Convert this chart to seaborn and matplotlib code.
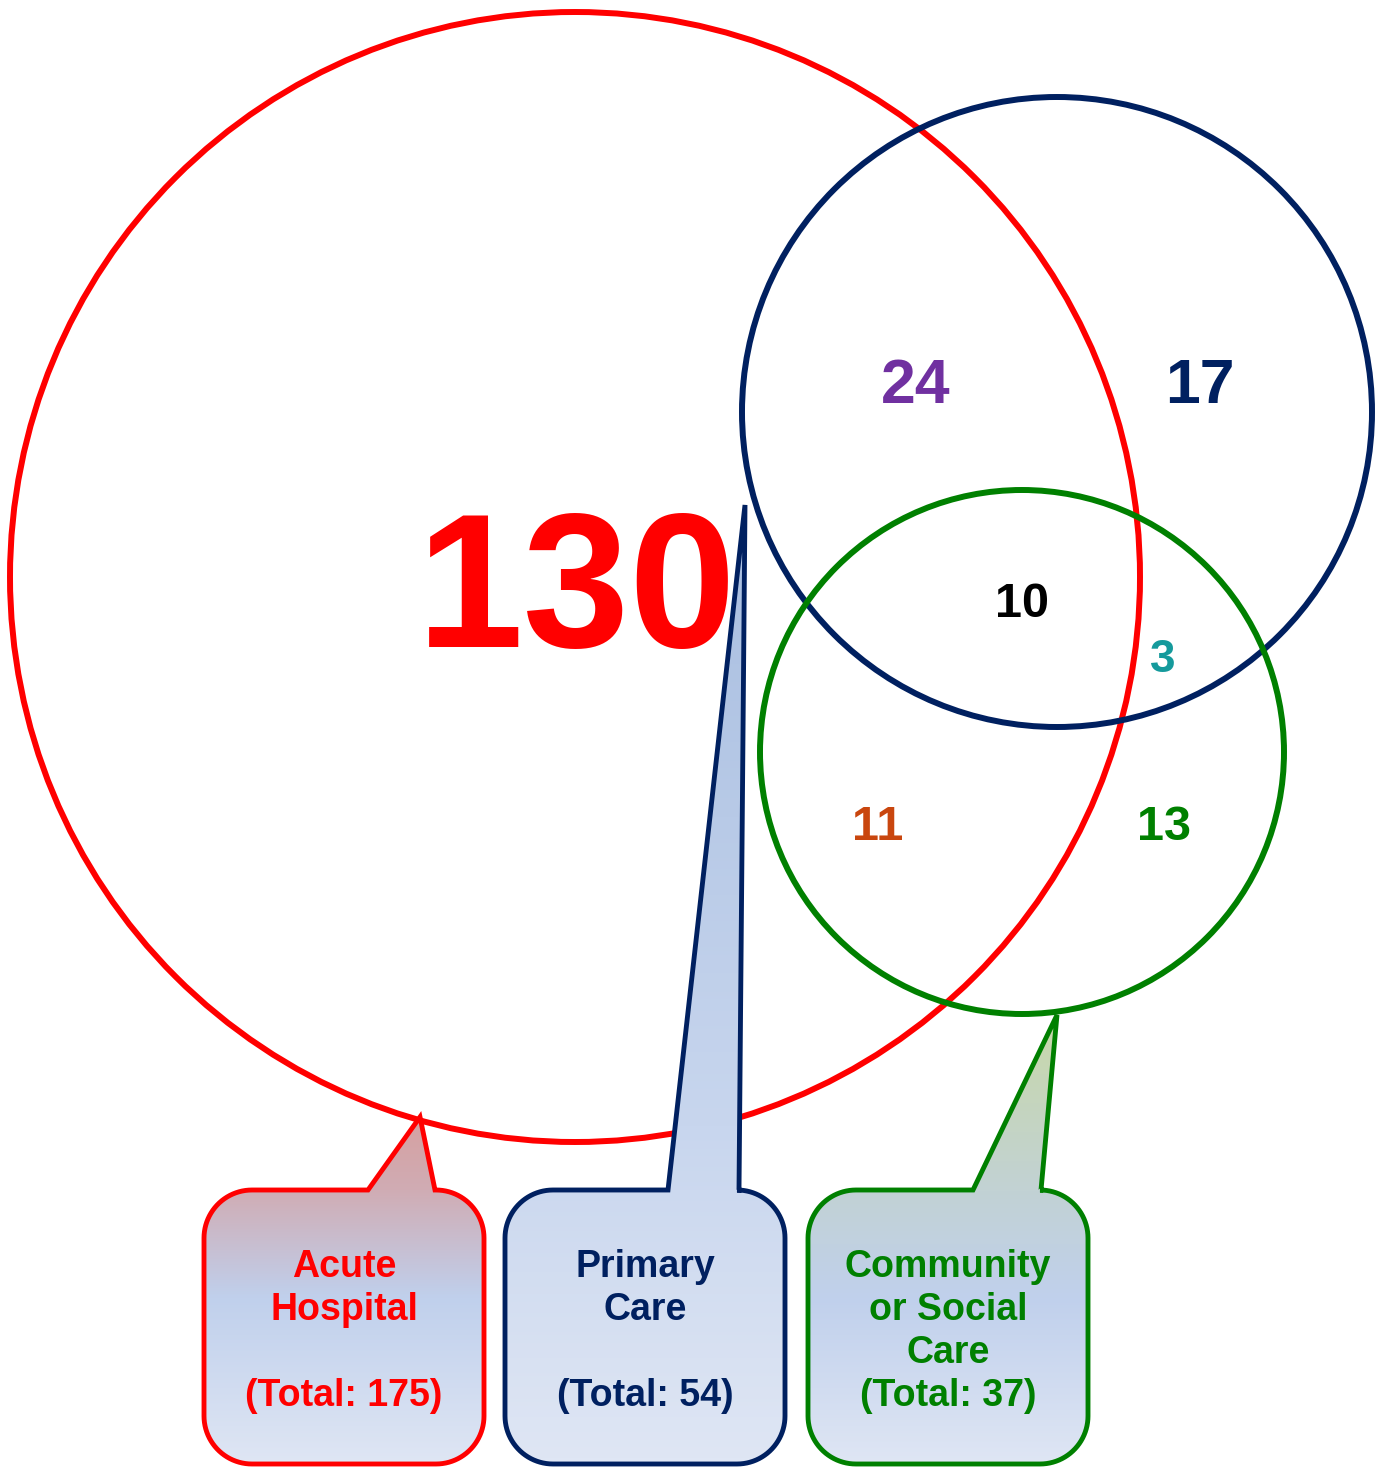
import numpy as np
import matplotlib
matplotlib.use("Agg")
import matplotlib.pyplot as plt
import seaborn as sns
from matplotlib.patches import Circle, PathPatch
from matplotlib.path import Path
from matplotlib.colors import LinearSegmentedColormap

sns.set_theme(style="white")
plt.rcParams["font.family"] = ["Liberation Sans", "DejaVu Sans"]
plt.rcParams["font.weight"] = "bold"

# Counts of patients in each region of the three-way overlap
services = ["Acute Hospital", "Primary Care", "Community or Social Care"]
acute_only = 130
primary_only = 17
community_only = 13
acute_primary = 24
acute_community = 11
primary_community = 3
all_three = 10

totals = [
    acute_only + acute_primary + acute_community + all_three,
    primary_only + acute_primary + primary_community + all_three,
    community_only + acute_community + primary_community + all_three,
]

callout_lines = [
    ["Acute", "Hospital", "", f"(Total: {totals[0]})"],
    ["Primary", "Care", "", f"(Total: {totals[1]})"],
    ["Community", "or Social", "Care", f"(Total: {totals[2]})"],
]

RED = "#FF0000"
NAVY = "#002060"
GREEN = "#008000"

W, H = 1384, 1467
fig = plt.figure(figsize=(W / 100, H / 100), dpi=100)
ax = fig.add_axes([0, 0, 1, 1])
ax.set_xlim(0, W)
ax.set_ylim(H, 0)
ax.set_aspect("equal")
ax.axis("off")

# Set circles (pixel-space layout, y grows downward)
circles = [
    ((575, 577), 565, RED),
    ((1057, 412), 315, NAVY),
    ((1022, 752), 262, GREEN),
]
for (cx, cy), r, col in circles:
    ax.add_patch(Circle((cx, cy), r, fill=False, ec=col, lw=4.3, zorder=2))

# Region counts
def num(x, y, val, color, size):
    ax.text(x, y, str(val), color=color, fontsize=size, fontweight="bold",
            ha="center", va="baseline", zorder=3)

num(577, 647, acute_only, RED, 138)
num(916, 403, acute_primary, "#7030A0", 45)
num(1200, 403, primary_only, NAVY, 45)
num(1022, 617, all_three, "black", 35)
num(1163, 672, primary_community, "#159A9C", 33)
num(878, 840, acute_community, "#C9460E", 35)
num(1164, 840, community_only, GREEN, 35)


def callout_path(x0, x1, y0, y1, r, bl, tip, br):
    pts = []

    def arc(cx, cy, a0, a1):
        t = np.radians(np.linspace(a0, a1, 24))
        return list(zip(cx + r * np.cos(t), cy + r * np.sin(t)))

    pts += arc(x0 + r, y0 + r, 180, 270)
    pts += [(bl, y0), tip, (br, y0)]
    pts += arc(x1 - r, y0 + r, 270, 360)
    pts += arc(x1 - r, y1 - r, 0, 90)
    pts += arc(x0 + r, y1 - r, 90, 180)
    pts.append(pts[0])
    codes = [Path.MOVETO] + [Path.LINETO] * (len(pts) - 2) + [Path.CLOSEPOLY]
    return Path(pts, codes)


callouts = [
    dict(x0=204, x1=484, bl=368, tip=(420, 1117), br=435, color=RED,
         stops=[(0.0, "#D6A0A0"), (0.21, "#D0ACB4"), (0.52, "#C0D0EC"), (1.0, "#DFE6F4")]),
    dict(x0=505, x1=785, bl=668, tip=(745, 505), br=739, color=NAVY,
         stops=[(0.0, "#A8BEE0"), (0.65, "#C8D6EE"), (1.0, "#DFE6F4")]),
    dict(x0=808, x1=1088, bl=973, tip=(1057, 1015), br=1041, color=GREEN,
         stops=[(0.0, "#C8D8A8"), (0.39, "#C2D2D4"), (0.63, "#C0D0EC"), (1.0, "#DFE6F4")]),
]
box_top, box_bottom, corner = 1190, 1464, 48
baselines = [1277, 1320, 1363, 1406]

for c, lines in zip(callouts, callout_lines):
    path = callout_path(c["x0"], c["x1"], box_top, box_bottom, corner,
                        c["bl"], c["tip"], c["br"])
    outline = PathPatch(path, fc="none", ec=c["color"], lw=3.5, zorder=5,
                        joinstyle="miter")
    clip = PathPatch(path, fc="none", ec="none", transform=ax.transData)
    ax.add_patch(clip)
    cmap = LinearSegmentedColormap.from_list("fill", c["stops"])
    grad = np.linspace(0, 1, 256).reshape(-1, 1)
    im = ax.imshow(grad, cmap=cmap, aspect="auto", origin="upper",
                   extent=(c["x0"], c["x1"], box_bottom, c["tip"][1]),
                   interpolation="bilinear", zorder=4)
    im.set_clip_path(clip)
    ax.add_patch(outline)
    cx = (c["x0"] + c["x1"]) / 2
    for line, yb in zip(lines, baselines):
        if line:
            ax.text(cx, yb, line, color=c["color"], fontsize=27,
                    fontweight="bold", ha="center", va="baseline", zorder=6)

ax.set_xlim(0, W)
ax.set_ylim(H, 0)
fig.savefig("out.png", dpi=100, facecolor="white")
